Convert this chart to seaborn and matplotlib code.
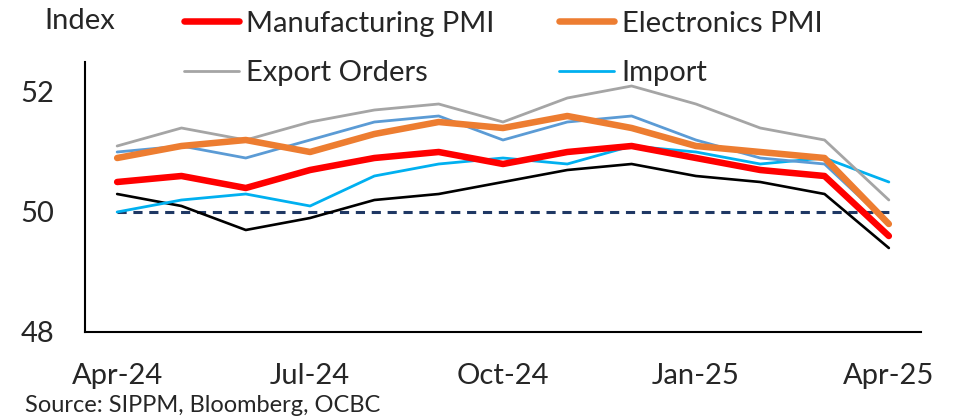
import matplotlib
matplotlib.use("Agg")
import matplotlib.pyplot as plt
import seaborn as sns
import pandas as pd
import numpy as np

months = ["Apr-24", "May-24", "Jun-24", "Jul-24", "Aug-24", "Sep-24", "Oct-24",
          "Nov-24", "Dec-24", "Jan-25", "Feb-25", "Mar-25", "Apr-25"]
tick_labels = ["Apr-24", "Jul-24", "Oct-24", "Jan-25", "Apr-25"]

manufacturing_pmi = [50.5, 50.6, 50.4, 50.7, 50.9, 51.0, 50.8, 51.0, 51.1, 50.9, 50.7, 50.6, 49.6]
electronics_pmi = [50.9, 51.1, 51.2, 51.0, 51.3, 51.5, 51.4, 51.6, 51.4, 51.1, 51.0, 50.9, 49.8]
export_orders = [51.1, 51.4, 51.2, 51.5, 51.7, 51.8, 51.5, 51.9, 52.1, 51.8, 51.4, 51.2, 50.2]
imports = [50.0, 50.2, 50.3, 50.1, 50.6, 50.8, 50.9, 50.8, 51.1, 51.0, 50.8, 50.9, 50.5]
new_orders = [51.0, 51.1, 50.9, 51.2, 51.5, 51.6, 51.2, 51.5, 51.6, 51.2, 50.9, 50.8, 49.8]
output_idx = [50.3, 50.1, 49.7, 49.9, 50.2, 50.3, 50.5, 50.7, 50.8, 50.6, 50.5, 50.3, 49.4]
threshold = [50.0] * len(months)

sns.set_theme(style="white")
plt.rcParams['font.family'] = ['Lato', 'DejaVu Sans']

fig = plt.figure(figsize=(9.56, 4.18), dpi=100)
ax = fig.add_axes([85/956, 1-332/418, (921-85)/956, (332-62)/418])

x = np.arange(len(months))

sns.lineplot(x=x, y=threshold, ax=ax, color="#1F3864", lw=2.2, linestyle=(0, (3, 2.2)), label="_nolegend_")
sns.lineplot(x=x, y=output_idx, ax=ax, color="black", lw=1.9, label="_nolegend_")
sns.lineplot(x=x, y=imports, ax=ax, color="#00B0F0", lw=2.0, label="Import")
sns.lineplot(x=x, y=new_orders, ax=ax, color="#5B9BD5", lw=2.0, label="_nolegend_")
sns.lineplot(x=x, y=export_orders, ax=ax, color="#A5A5A5", lw=2.0, label="Export Orders")
sns.lineplot(x=x, y=electronics_pmi, ax=ax, color="#ED7D31", lw=4.7, label="Electronics PMI",
             solid_capstyle="round")
sns.lineplot(x=x, y=manufacturing_pmi, ax=ax, color="#FF0000", lw=4.7, label="Manufacturing PMI",
             solid_capstyle="round")

ax.set_xlim(-0.5, len(months) - 0.5)
ax.set_ylim(48, 52.5)
ax.set_yticks([48, 50, 52])
ax.set_xticks([months.index(t) for t in tick_labels])
ax.set_xticklabels(tick_labels)
ax.tick_params(axis='x', length=0, pad=22, labelsize=21)
ax.tick_params(axis='y', length=0, pad=22, labelsize=21)
for s in ["top", "right"]:
    ax.spines[s].set_visible(False)
for s in ["left", "bottom"]:
    ax.spines[s].set_color("black")
    ax.spines[s].set_linewidth(1.5)
ax.grid(False)
ax.set_xlabel("")
ax.set_ylabel("")

h, l = ax.get_legend_handles_labels()
d = dict(zip(l, h))
order = ["Manufacturing PMI", "Export Orders", "Electronics PMI", "Import"]
if ax.legend_:
    ax.legend_.remove()
leg = fig.legend([d[k] for k in order], order, ncol=2, frameon=False, fontsize=21,
                 loc="upper left", bbox_to_anchor=(172/956, 1 + 1/418),
                 handlelength=1.9, handletextpad=0.25, columnspacing=2.2, labelspacing=0.8,
                 borderaxespad=0)

fig.text(80/956, 1-21/418, "Index", fontsize=21, ha="center", va="center")
fig.text(25/956, 1-406/418, "Source: SIPPM, Bloomberg, OCBC", fontsize=17, ha="left", va="center")

fig.savefig("out.png", dpi=100)
